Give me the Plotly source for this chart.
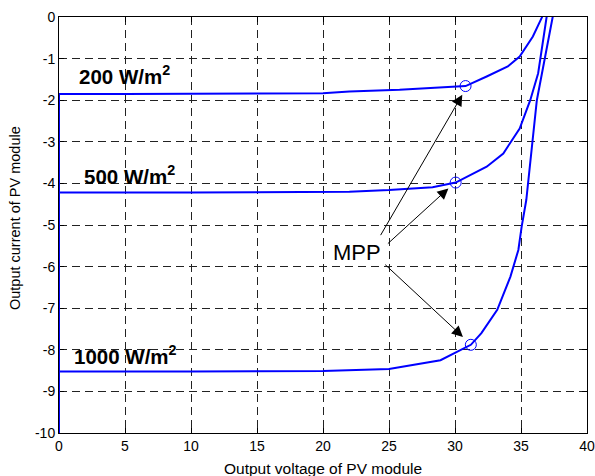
import plotly.graph_objects as go

# ---- data ----
v_200 = [0, 0, 5, 10, 15, 20, 22, 25.8, 28.3, 30.8, 32.4, 34.0, 34.9, 35.9, 36.6, 36.7]
i_200 = [-10.5, -1.85, -1.85, -1.85, -1.84, -1.83, -1.79, -1.75, -1.71, -1.66, -1.43, -1.19, -0.95, -0.47, 0, 0.1]

v_500 = [0, 0, 10, 20, 22, 25, 28.3, 30.05, 32.4, 33.66, 34.9, 35.7, 36.3, 36.94, 37.0]
i_500 = [-10.5, -4.22, -4.22, -4.21, -4.2, -4.16, -4.09, -3.98, -3.6, -3.28, -2.68, -2.0, -1.35, 0, 0.1]

v_1000 = [0, 0, 10, 20, 25, 28.9, 31.2, 32.0, 33.2, 34.2, 34.8, 35.05, 35.4, 36.2, 37.4, 37.5]
i_1000 = [-10.5, -8.52, -8.52, -8.51, -8.46, -8.25, -7.88, -7.6, -7.04, -6.24, -5.6, -5.04, -4.4, -2.0, 0, 0.1]

mpp_v = [30.8, 30.05, 31.2]
mpp_i = [-1.66, -3.98, -7.88]

irr_labels = ["200 W/m<sup>2</sup>", "500 W/m<sup>2</sup>", "1000 W/m<sup>2</sup>"]
irr_label_x = [1.35, 1.75, 1.0]
irr_label_y = [-1.61, -4.02, -8.34]

x_ticks = [0, 5, 10, 15, 20, 25, 30, 35, 40]
y_ticks = [0, -1, -2, -3, -4, -5, -6, -7, -8, -9, -10]
y_ticktext = [str(t) for t in y_ticks]

# arrows: tail (near MPP text) -> head (near MPP point)
arrow_tail_v = [24.3, 24.8, 24.6]
arrow_tail_i = [-5.28, -5.48, -5.92]
arrow_head_v = [30.55, 29.5, 30.6]
arrow_head_i = [-1.87, -4.12, -7.69]

FONT = "Arial, Liberation Sans, sans-serif"

fig = go.Figure()
for v, i in [(v_200, i_200), (v_500, i_500), (v_1000, i_1000)]:
    fig.add_trace(go.Scatter(x=v, y=i, mode="lines",
                             line=dict(color="#0000ff", width=2), showlegend=False))
fig.add_trace(go.Scatter(x=mpp_v, y=mpp_i, mode="markers",
                         marker=dict(symbol="circle-open", size=11, color="#0000ff",
                                     line=dict(width=1, color="#0000ff")),
                         showlegend=False))

annotations = []
for t, x, y in zip(irr_labels, irr_label_x, irr_label_y):
    annotations.append(dict(x=x, y=y, xref="x", yref="y", text="<b>" + t + "</b>",
                            showarrow=False, xanchor="left", yanchor="bottom", yshift=-6,
                            font=dict(family=FONT, size=20.5, color="black")))
annotations.append(dict(x=22.6, y=-5.65, xref="x", yref="y", text="MPP", showarrow=False,
                        font=dict(family=FONT, size=22, color="black")))
for tv, ti, hv, hi in zip(arrow_tail_v, arrow_tail_i, arrow_head_v, arrow_head_i):
    annotations.append(dict(x=hv, y=hi, ax=tv, ay=ti, xref="x", yref="y", axref="x", ayref="y",
                            text="", showarrow=True, arrowhead=2, arrowsize=2.2, arrowwidth=1,
                            arrowcolor="black", standoff=0, startstandoff=0))
# axis titles
annotations.append(dict(x=0.5, y=0, xref="paper", yref="paper", yshift=-35, xanchor="center",
                        yanchor="middle", text="Output voltage of PV module", showarrow=False,
                        font=dict(family=FONT, size=15.5, color="black")))
annotations.append(dict(x=0, y=0.5, xref="paper", yref="paper", xshift=-44, yshift=7,
                        xanchor="center", yanchor="middle",
                        text="Output current of PV module", showarrow=False,
                        textangle=-90, font=dict(family=FONT, size=14.5, color="black")))

axis_common = dict(showline=True, linecolor="black", linewidth=1, mirror="ticks",
                   ticks="inside", ticklen=5, tickcolor="black", automargin=False,
                   layer="below traces",
                   showgrid=True, gridcolor="#222222", gridwidth=1, griddash="8px,5px",
                   zeroline=False,
                   tickfont=dict(family=FONT, size=14, color="black"))

fig.update_layout(
    width=595, height=476,
    margin=dict(l=59, r=8, t=17, b=43),
    plot_bgcolor="white", paper_bgcolor="white",
    xaxis=dict(range=[0, 40], tickvals=x_ticks, **axis_common),
    yaxis=dict(range=[-10, 0], tickvals=y_ticks, ticktext=y_ticktext, **axis_common),
    annotations=annotations,
)

fig.write_html("out.html", config={"displayModeBar": False},
               post_script="document.body.style.margin='0';document.body.style.padding='0';")
